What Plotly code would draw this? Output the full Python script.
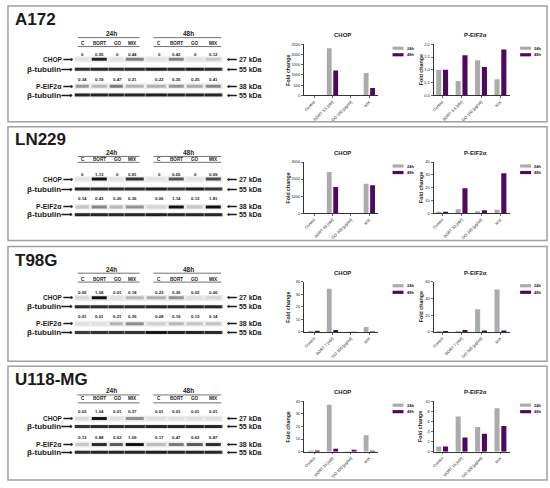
import plotly.graph_objects as go

W, H = 550, 488

# ---------------- data ----------------
cell_lines = ["A172", "LN229", "T98G", "U118-MG"]
lane_labels = ["C", "BORT", "GO", "MIX", "C", "BORT", "GO", "MIX"]
time_labels = ["24h", "48h"]
bort_labels = ["BORT 3.5 [nM]", "BORT 33 [nM]", "BORT 7 [nM]", "BORT 15 [nM]"]
control_label = "Control"
go_label = "GO 100 [µg/ml]"
mix_label = "MIX"
legend_labels = ["24h", "48h"]
chart_titles = ["CHOP", "P-EIF2α"]
y_title = "Fold change"

# densitometry values printed above the blots (24h C,BORT,GO,MIX | 48h C,BORT,GO,MIX)
a172_chop_q = [0, 0.95, 0, 0.44, 0, 0.42, 0, 0.12]
a172_peif_q = [0.34, 0.19, 0.47, 0.21, 0.22, 0.35, 0.25, 0.41]
ln229_chop_q = [0, 1.13, 0, 0.81, 0, 0.65, 0, 0.69]
ln229_peif_q = [0.14, 0.43, 0.20, 0.36, 0.06, 1.14, 0.13, 1.81]
t98g_chop_q = [0.05, 1.58, 0.01, 0.18, 0.23, 0.36, 0.02, 0.06]
t98g_peif_q = [0.01, 0.01, 0.21, 0.39, 0.08, 0.19, 0.13, 0.14]
u118_chop_q = [0.03, 1.04, 0.01, 0.37, 0.01, 0.01, 0.01, 0.01]
u118_peif_q = [0.13, 0.88, 0.62, 1.09, 0.17, 0.47, 0.62, 0.87]

# beta-tubulin band darkness
a172_tub1 = [0.80, 0.85, 0.80, 0.82, 0.90, 0.85, 0.90, 0.82]
a172_tub2 = [0.85, 0.85, 0.85, 0.85, 0.88, 0.85, 0.85, 0.85]
ln229_tub1 = [0.85, 0.80, 0.80, 0.80, 0.90, 0.75, 0.90, 0.75]
ln229_tub2 = [0.85, 0.85, 0.85, 0.85, 0.90, 0.85, 0.85, 0.85]
t98g_tub1 = [0.80, 0.80, 0.80, 0.80, 0.85, 0.85, 0.85, 0.85]
t98g_tub2 = [0.70, 0.75, 0.75, 0.75, 0.95, 0.85, 0.85, 0.80]
u118_tub1 = [0.75, 0.80, 0.80, 0.80, 0.85, 0.85, 0.85, 0.85]
u118_tub2 = [0.80, 0.85, 0.85, 0.85, 0.90, 0.85, 0.85, 0.85]

# fold change bar values: Control, BORT, GO, MIX
a172_chop_24h = [0, 2300, 0, 1090]
a172_chop_48h = [0, 1210, 0, 355]
a172_peif_24h = [1.0, 0.56, 1.37, 0.63]
a172_peif_48h = [1.0, 1.57, 1.11, 1.80]
ln229_chop_24h = [0, 2420, 0, 1720]
ln229_chop_48h = [0, 1530, 0, 1630]
ln229_peif_24h = [1.0, 3.1, 1.4, 2.6]
ln229_peif_48h = [1.0, 19.4, 2.2, 31.2]
t98g_chop_24h = [1.0, 34.5, 0.2, 3.9]
t98g_chop_48h = [1.0, 1.6, 0.1, 0.3]
t98g_peif_24h = [1.0, 1.0, 27.2, 50.9]
t98g_peif_48h = [1.0, 2.4, 1.6, 1.75]
u118_chop_24h = [1.0, 37.1, 0.3, 13.0]
u118_chop_48h = [1.0, 2.3, 1.5, 0.8]
u118_peif_24h = [1.0, 6.95, 4.87, 8.6]
u118_peif_48h = [1.0, 2.8, 3.57, 5.1]

# axis ticks
chop_ymax = [2500, 3000, 40, 40]
chop_dtick = [500, 1000, 10, 10]
peif_ymax = [2.0, 40, 60, 10]
peif_dtick = [0.5, 10, 20, 2]

chop_q = [a172_chop_q, ln229_chop_q, t98g_chop_q, u118_chop_q]
peif_q = [a172_peif_q, ln229_peif_q, t98g_peif_q, u118_peif_q]
tub1 = [a172_tub1, ln229_tub1, t98g_tub1, u118_tub1]
tub2 = [a172_tub2, ln229_tub2, t98g_tub2, u118_tub2]
chop_bars = [(a172_chop_24h, a172_chop_48h), (ln229_chop_24h, ln229_chop_48h),
             (t98g_chop_24h, t98g_chop_48h), (u118_chop_24h, u118_chop_48h)]
peif_bars = [(a172_peif_24h, a172_peif_48h), (ln229_peif_24h, ln229_peif_48h),
             (t98g_peif_24h, t98g_peif_48h), (u118_peif_24h, u118_peif_48h)]

# ---------------- layout geometry (pixels) ----------------
GRAY = "#ABABAB"
PURPLE = "#4B0A5C"
INK = "#1a1a1a"
FONT = "Liberation Sans, Arial, sans-serif"

panel_box = [(3, 120), (125, 240), (246, 362), (367, 482)]
# rows: title, time, time line, lanes, lanes line, chop nums, chop band, tub, peif nums, peif band, tub
panel_rows = [
    [17, 32, 35, 41, 44, 52, 57, 67, 77, 84, 93],
    [138, 152, 155, 158, 161, 173, 178, 188, 198, 206, 214],
    [260, 270, 273, 279, 282, 292, 298, 307, 317, 324, 333],
    [380, 393, 396, 400, 404, 413, 420, 428, 439, 446, 454],
]
plot_y = [(41.7, 93.3), (160.7, 212.3), (281.7, 332.3), (402.3, 453.3)]
chart_x = [(303, 377), (433, 510)]
chart_xrange = [[-0.55, 3.45], [-0.45, 3.5]]
lane_x = [81, 97.5, 116, 131, 158, 175, 194, 212]
blot_x0, blot_x1 = 73, 222
edges = [blot_x0] + [(lane_x[k] + lane_x[k + 1]) / 2 for k in range(7)] + [blot_x1]

fig = go.Figure()
shapes = []
layout_axes = {}


def ann(x, y, text, size, xanchor="center", bold=True, angle=0, color=INK):
    fig.add_annotation(x=x, y=y, xref="x9", yref="y9",
                       text=f"<b>{text}</b>" if bold else text,
                       showarrow=False, textangle=angle,
                       font=dict(family=FONT, size=size, color=color),
                       xanchor=xanchor, yanchor="middle", borderpad=0)


def band(vals, yc, h, zmax, gap):
    fig.add_trace(go.Heatmap(
        z=[vals], x=edges, y=[yc - h / 2, yc + h / 2],
        zmin=0, zmax=zmax, showscale=False, xgap=gap, hoverinfo="skip",
        colorscale=[[0, "#e2e2e2"], [0.3, "#9a9a9a"], [0.7, "#3a3a3a"], [1, "#111111"]],
        xaxis="x9", yaxis="y9"))


def strip(yc, h):
    shapes.append(dict(type="rect", xref="x9", yref="y9", x0=blot_x0, x1=blot_x1,
                       y0=yc - h / 2, y1=yc + h / 2, fillcolor="#ececec",
                       line=dict(width=0), layer="below"))


def fmt(v):
    return "0" if v == 0 else f"{v:.2f}"


for i, name in enumerate(cell_lines):
    top, bot = panel_box[i]
    shapes.append(dict(type="rect", xref="x9", yref="y9", x0=6, x1=547, y0=top, y1=bot,
                       line=dict(color="#a0a0a0", width=1.5), fillcolor="rgba(0,0,0,0)"))
    r = panel_rows[i]
    ann(12, r[0], name, 17, xanchor="left")
    # time headers
    for t, (cx, lx0, lx1) in enumerate([(110, 76, 138), (187, 152, 220)]):
        ann(cx, r[1] - 1, time_labels[t], 6.5)
        for yy in (r[2], r[4]):
            shapes.append(dict(type="line", xref="x9", yref="y9", x0=lx0, x1=lx1,
                               y0=yy, y1=yy, line=dict(color="#333", width=0.7)))
    for k, lab in enumerate(lane_labels):
        ann(lane_x[k], r[3], lab, 4.6)
        ann(lane_x[k], r[5], fmt(chop_q[i][k]), 4.4)
        ann(lane_x[k], r[8], fmt(peif_q[i][k]), 4.4)
    # blot strips & bands
    strip(r[6], 6)
    band(chop_q[i], r[6], 3.4, 1.1, 3)
    strip(r[7], 5)
    band(tub1[i], r[7], 3.2, 1.0, 0.5)
    strip(r[9], 6)
    band(peif_q[i], r[9], 2.8, 1.1, 3)
    strip(r[10], 5)
    band(tub2[i], r[10], 3.2, 1.0, 0.5)
    # side labels
    ann(72, r[6], "CHOP ⟶", 6.5, xanchor="right")
    ann(72, r[7], "β-tubulin⟶", 8, xanchor="right")
    ann(72, r[9], "P-EIF2α ⟶", 6.8, xanchor="right")
    ann(72, r[10], "β-tubulin⟶", 8, xanchor="right")
    ann(225, r[6], "⟵ 27 kDa", 7, xanchor="left")
    ann(225, r[7], "⟵ 55 kDa", 7, xanchor="left")
    ann(225, r[9], "⟵ 38 kDa", 7, xanchor="left")
    ann(225, r[10], "⟵ 55 kDa", 7, xanchor="left")

    # bar charts
    cats = [control_label, bort_labels[i], go_label, mix_label]
    ptop, pbot = plot_y[i]
    for j, (bars, ymax, dt) in enumerate([(chop_bars[i], chop_ymax[i], chop_dtick[i]),
                                           (peif_bars[i], peif_ymax[i], peif_dtick[i])]):
        n = 2 * i + j + 1
        sfx = "" if n == 1 else str(n)
        x0, x1 = chart_x[j]
        for s, (vals, col) in enumerate(zip(bars, [GRAY, PURPLE])):
            fig.add_trace(go.Bar(x=cats, y=vals, marker_color=col, marker_line_width=0,
                                 name=legend_labels[s], showlegend=False,
                                 offsetgroup=str(s), xaxis=f"x{sfx}", yaxis=f"y{sfx}"))
        layout_axes[f"xaxis{sfx}"] = dict(
            domain=[x0 / W, x1 / W], anchor=f"y{sfx}", range=chart_xrange[j],
            showline=True, linecolor="black", linewidth=0.8, ticks="outside",
            ticklen=2, tickwidth=0.6, tickcolor="black", tickangle=-45,
            tickfont=dict(family=FONT, size=4, color="#222"), showgrid=False,
            zeroline=False, fixedrange=True)
        layout_axes[f"yaxis{sfx}"] = dict(
            domain=[1 - pbot / H, 1 - ptop / H], anchor=f"x{sfx}", range=[0, ymax],
            tick0=0, dtick=dt, tickformat=".1f" if dt < 1 else "d",
            showline=True, linecolor="black", linewidth=0.8, ticks="outside",
            ticklen=2, tickwidth=0.6, tickcolor="black",
            tickfont=dict(family=FONT, size=4, color="#222"), showgrid=False,
            zeroline=False, fixedrange=True)
        cx = (x0 + x1) / 2 + (4 if j == 1 else 2)
        ann(cx, ptop - 9, chart_titles[j], 6)
        ann(287 if j == 0 else 420, (ptop + pbot) / 2, y_title, 5.3, angle=-90)
        lx = 392 if j == 0 else 520
        for s, col in enumerate([GRAY, PURPLE]):
            ly = ptop + 4 + 6.6 * s
            shapes.append(dict(type="rect", xref="x9", yref="y9", x0=lx, x1=lx + 11,
                               y0=ly - 1.6, y1=ly + 1.6, fillcolor=col, line=dict(width=0)))
            ann(lx + 13, ly, legend_labels[s], 4, xanchor="left")

fig.update_layout(
    width=W, height=H, margin=dict(l=0, r=0, t=0, b=0),
    paper_bgcolor="white", plot_bgcolor="rgba(0,0,0,0)",
    barmode="group", bargap=0.3, bargroupgap=0.25,
    showlegend=False, shapes=shapes,
    xaxis9=dict(domain=[0, 1], range=[0, W], visible=False, anchor="y9", fixedrange=True),
    yaxis9=dict(domain=[0, 1], range=[H, 0], visible=False, anchor="x9", fixedrange=True),
    **layout_axes,
)

fig.write_html("out.html", config={"displayModeBar": False, "staticPlot": True},
               post_script="document.body.style.margin='0';document.body.style.overflow='hidden';")
